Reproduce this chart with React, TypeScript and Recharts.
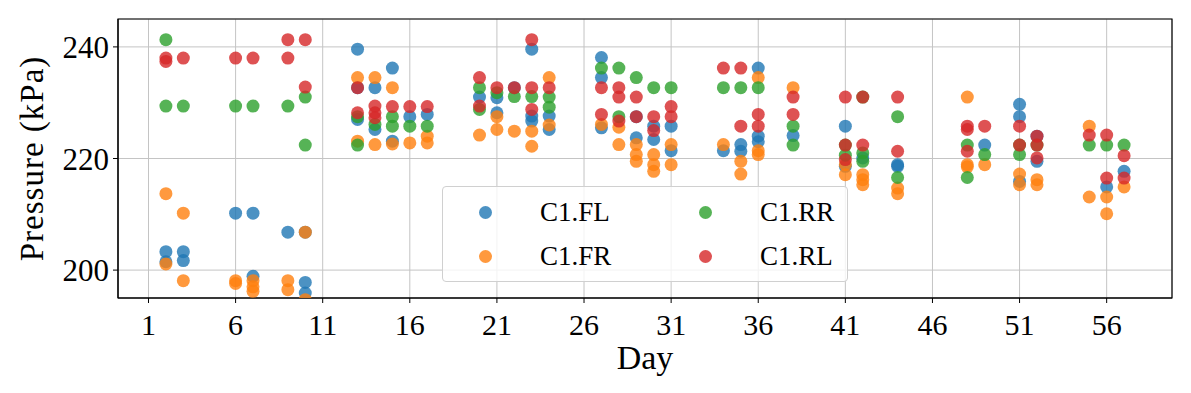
import {
  ScatterChart,
  Scatter,
  XAxis,
  YAxis,
  CartesianGrid,
  ReferenceArea,
  Legend,
} from 'recharts';

// [day, kPa]
const flPoints: [number, number][] = [
  [2, 203.3], [2, 201.5], [3, 203.3], [3, 201.7], [6, 210.2], [7, 210.2], [7, 198.9],
  [9, 206.8], [10, 206.8], [10, 197.8], [10, 195.9],
  [13, 239.6], [13, 232.7], [13, 227.0], [14, 232.7], [14, 225.2], [15, 236.2], [15, 223.1],
  [16, 227.5], [17, 227.9], [20, 231.0], [21, 230.9], [21, 228.2], [22, 232.7],
  [23, 239.6], [23, 227.6], [23, 226.7], [24, 227.6], [24, 225.2],
  [27, 238.1], [27, 234.5], [27, 225.5], [29, 227.5], [29, 223.7], [30, 225.8], [30, 223.4],
  [31, 225.8], [31, 221.4], [34, 221.4], [35, 222.5], [35, 221.3], [36, 236.2], [36, 224.0],
  [36, 223.0], [38, 224.1], [41, 225.8], [41, 218.6], [42, 220.1], [44, 218.9], [44, 218.6],
  [49, 222.4], [51, 229.7], [51, 227.5], [51, 215.9], [52, 224.0], [52, 219.5], [56, 214.9],
  [57, 217.7],
];

const frPoints: [number, number][] = [
  [2, 213.7], [2, 201.1], [3, 210.2], [3, 198.1], [6, 198.1], [6, 197.6], [7, 198.1],
  [7, 197.0], [7, 196.2], [9, 198.1], [9, 196.5], [10, 206.8], [10, 194.7],
  [13, 234.5], [13, 223.1], [14, 234.5], [14, 222.5], [15, 232.7], [15, 222.6], [16, 222.8],
  [17, 224.0], [17, 222.8], [20, 224.2], [21, 227.5], [21, 225.2], [22, 224.9], [23, 224.9],
  [23, 222.2], [24, 234.5], [24, 226.0], [27, 226.1], [28, 225.6], [28, 222.5], [29, 222.5],
  [29, 220.7], [29, 219.5], [30, 220.7], [30, 218.9], [30, 217.7], [31, 222.5], [31, 218.9],
  [34, 222.5], [35, 219.5], [35, 217.2], [36, 234.5], [36, 221.4], [36, 220.7], [38, 232.7],
  [41, 218.9], [41, 217.1], [42, 217.1], [42, 216.2], [42, 215.3], [44, 214.7], [44, 213.7],
  [48, 231.0], [48, 218.9], [48, 218.5], [49, 218.9], [51, 217.2], [51, 215.3], [52, 216.2],
  [52, 215.3], [55, 225.8], [55, 213.1], [56, 213.1], [56, 210.1], [57, 214.9],
];

const rrPoints: [number, number][] = [
  [2, 241.3], [2, 229.4], [3, 229.4], [6, 229.4], [7, 229.4], [9, 229.4], [10, 231.0],
  [10, 222.4], [13, 227.5], [13, 222.4], [14, 226.1], [15, 227.5], [15, 225.8], [16, 225.8],
  [17, 225.8], [20, 232.7], [20, 228.8], [21, 231.8], [22, 231.1], [23, 231.1], [24, 231.0],
  [24, 229.2], [27, 236.2], [28, 236.2], [28, 227.5], [29, 234.5], [30, 232.7], [31, 232.7],
  [34, 232.7], [35, 232.7], [36, 232.7], [38, 225.8], [38, 222.4], [41, 222.4], [41, 220.6],
  [42, 231.0], [42, 221.0], [42, 219.5], [44, 227.5], [44, 216.6], [48, 222.4], [48, 216.6],
  [49, 220.7], [51, 222.4], [51, 220.7], [52, 222.4], [55, 222.4], [56, 222.4], [57, 222.4],
];

const rlPoints: [number, number][] = [
  [2, 238.0], [2, 237.4], [3, 238.0], [6, 238.0], [7, 238.0], [9, 241.3], [9, 238.0],
  [10, 241.3], [10, 232.8], [13, 232.7], [13, 228.2], [14, 229.4], [14, 228.2], [14, 227.3],
  [15, 229.3], [16, 229.3], [17, 229.3], [20, 234.5], [20, 229.4], [21, 232.7], [22, 232.7],
  [23, 241.3], [23, 232.7], [23, 228.8], [24, 232.7], [27, 232.7], [27, 227.9], [28, 232.7],
  [28, 231.0], [28, 226.7], [29, 231.0], [29, 227.5], [30, 227.5], [30, 225.0], [31, 229.3],
  [31, 227.5], [34, 236.2], [35, 236.2], [35, 225.8], [36, 227.9], [36, 225.8], [38, 231.0],
  [38, 227.9], [41, 231.0], [41, 222.4], [41, 219.8], [42, 231.0], [42, 222.4], [44, 231.0],
  [44, 221.3], [48, 225.8], [48, 225.2], [48, 221.3], [49, 225.8], [51, 225.8], [51, 222.4],
  [52, 224.0], [52, 222.4], [52, 220.1], [55, 224.2], [56, 224.2], [56, 216.5], [57, 220.5],
  [57, 216.5],
];

const xTicks = [1, 6, 11, 16, 21, 26, 31, 36, 41, 46, 51, 56];
const yTicks = [200, 220, 240];

const series = [
  { name: 'C1.FL', color: '#1f77b4', points: flPoints },
  { name: 'C1.FR', color: '#ff7f0e', points: frPoints },
  { name: 'C1.RR', color: '#2ca02c', points: rrPoints },
  { name: 'C1.RL', color: '#d62728', points: rlPoints },
];

const FONT = '"Liberation Serif", "Times New Roman", serif';
const X_DOMAIN: [number, number] = [-0.75, 59.75];
const Y_DOMAIN: [number, number] = [195, 245];

const XTick = ({ x, y, payload }: any) => (
  <text x={x} y={y + 30} textAnchor="middle" fontFamily={FONT} fontSize={30} fill="#000">
    {payload.value}
  </text>
);

const YTick = ({ x, y, payload }: any) => (
  <text x={x - 2} y={y + 11} textAnchor="end" fontFamily={FONT} fontSize={31} fill="#000">
    {payload.value}
  </text>
);

// legend slots: column (0/1), row (0/1)
const legendSlots = [
  { s: series[0], col: 0, row: 0 },
  { s: series[1], col: 0, row: 1 },
  { s: series[2], col: 1, row: 0 },
  { s: series[3], col: 1, row: 1 },
];

const LegendBox = () => (
  <div
    style={{
      position: 'relative',
      width: 406,
      height: 96,
      background: 'rgba(255,255,255,0.8)',
      border: '1px solid #d0d0d0',
      borderRadius: 4,
      fontFamily: FONT,
      fontSize: 27,
      color: '#000',
      boxSizing: 'border-box',
    }}
  >
    {legendSlots.map(({ s, col, row }) => (
      <div key={s.name}>
        <span
          style={{
            position: 'absolute',
            left: 35.5 + col * 220,
            top: 18.5 + row * 44,
            width: 13,
            height: 13,
            borderRadius: '50%',
            background: s.color,
            opacity: 0.8,
          }}
        />
        <span
          style={{
            position: 'absolute',
            left: 97 + col * 220,
            top: 25 + row * 44,
            lineHeight: '0px',
            whiteSpace: 'nowrap',
          }}
        >
          {s.name}
        </span>
      </div>
    ))}
  </div>
);

export default function App() {
  return (
    <div style={{ position: 'absolute', left: 0, top: 0, width: 1191, height: 393, background: '#fff' }}>
      <ScatterChart width={1191} height={393} margin={{ top: 19, right: 19, bottom: 0, left: 0 }}>
        <CartesianGrid stroke="#c4c4c4" strokeWidth={1} />
        <XAxis
          type="number"
          dataKey="day"
          domain={X_DOMAIN}
          ticks={xTicks}
          allowDataOverflow
          height={95}
          tick={<XTick />}
          tickSize={5}
          tickLine={{ stroke: '#000' }}
          axisLine={{ stroke: '#000' }}
          label={{
            content: () => (
              <text x={645} y={369} textAnchor="middle" fontFamily={FONT} fontSize={34} fill="#000">
                Day
              </text>
            ),
          }}
        />
        <YAxis
          type="number"
          dataKey="value"
          domain={Y_DOMAIN}
          ticks={yTicks}
          allowDataOverflow
          width={118}
          tick={<YTick />}
          tickSize={5}
          tickLine={{ stroke: '#000' }}
          axisLine={{ stroke: '#000' }}
          label={{
            content: () => (
              <text
                transform="rotate(-90)"
                x={-158.5}
                y={43}
                textAnchor="middle"
                fontFamily={FONT}
                fontSize={33}
                letterSpacing={1}
                fill="#000"
              >
                Pressure (kPa)
              </text>
            ),
          }}
        />
        <ReferenceArea
          x1={X_DOMAIN[0]}
          x2={X_DOMAIN[1]}
          y1={Y_DOMAIN[0]}
          y2={Y_DOMAIN[1]}
          fill="none"
          stroke="#000"
          strokeWidth={1.2}
        />
        {series.map((s) => (
          <Scatter
            key={s.name}
            name={s.name}
            data={s.points.map(([day, value]) => ({ day, value }))}
            fill={s.color}
            isAnimationActive={false}
            shape={(p: any) => (
              <circle cx={p.cx} cy={p.cy} r={6.5} fill={s.color} fillOpacity={0.8} />
            )}
          />
        ))}
        <Legend
          layout="horizontal"
          verticalAlign="middle"
          align="center"
          content={<LegendBox />}
          wrapperStyle={{ position: 'absolute', left: 442, top: 186, width: 406, height: 96 }}
        />
      </ScatterChart>
    </div>
  );
}
